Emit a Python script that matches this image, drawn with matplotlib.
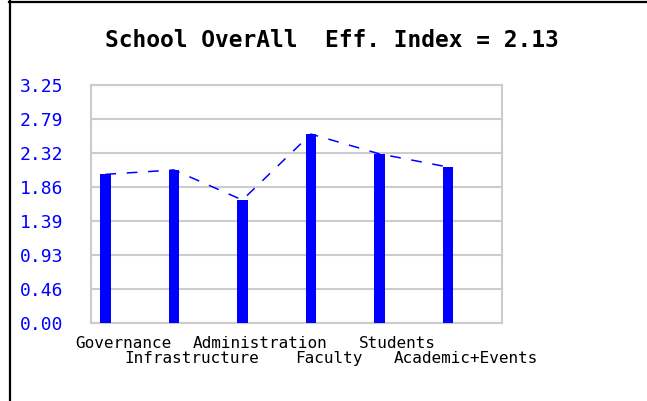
import numpy as np
import matplotlib.pyplot as plt
from matplotlib.lines import Line2D

# data
categories = ["Governance", "Infrastructure", "Administration",
              "Faculty", "Students", "Academic+Events"]
scores = [2.03, 2.09, 1.68, 2.58, 2.31, 2.13]
overall = 2.13
ymax = 3.25
tick_vals = np.linspace(0, ymax, 8)

blue = "#0000ff"
mono = "DejaVu Sans Mono"

fig = plt.figure(figsize=(6.47, 4.01), dpi=100)
ax = fig.add_axes([91/647, 78/401, 411/647, 238/401])

x = np.arange(len(categories))
bar_x = x + 0.21

# dashed line linking bar tops, bars on top of it
ax.plot(bar_x, scores, color=blue, lw=1.1, dashes=(7, 7), zorder=2)
ax.bar(bar_x, scores, width=0.15, color=blue, zorder=3)

ax.set_xlim(0, len(categories))
ax.set_ylim(0, ymax)
ax.set_yticks(tick_vals)
ax.set_yticklabels(["%.2f" % v for v in tick_vals])
ax.set_xticks([])
ax.grid(axis="y", color="#cccccc", lw=1.5, zorder=0)
# labels start at x=20px, axis at 91px -> 71px pad
ax.tick_params(axis="y", length=0, pad=71*0.72, labelcolor=blue, labelsize=13)
for lbl in ax.get_yticklabels():
    lbl.set_family(mono)
    lbl.set_horizontalalignment("left")
for s in ax.spines.values():
    s.set_color("#cccccc")
    s.set_linewidth(1.5)

# category names in two staggered rows
for i, name in enumerate(categories):
    y = -0.085 if i % 2 == 0 else -0.148
    ax.text(i + 0.47, y, name, transform=ax.get_xaxis_transform(),
            ha="center", va="center", family=mono, fontsize=11.5)

fig.text(0.513, 0.90, "School OverAll  Eff. Index = %.2f" % overall,
         ha="center", va="center", family=mono, fontweight="bold", fontsize=16.5)

# black frame on the left and top edges
fig.add_artist(Line2D([9.5/647, 9.5/647], [0, 1], color="black", lw=1.6))
fig.add_artist(Line2D([9/647, 1], [1 - 1.5/401, 1 - 1.5/401], color="black", lw=1.6))

plt.savefig("out.png", dpi=100)
